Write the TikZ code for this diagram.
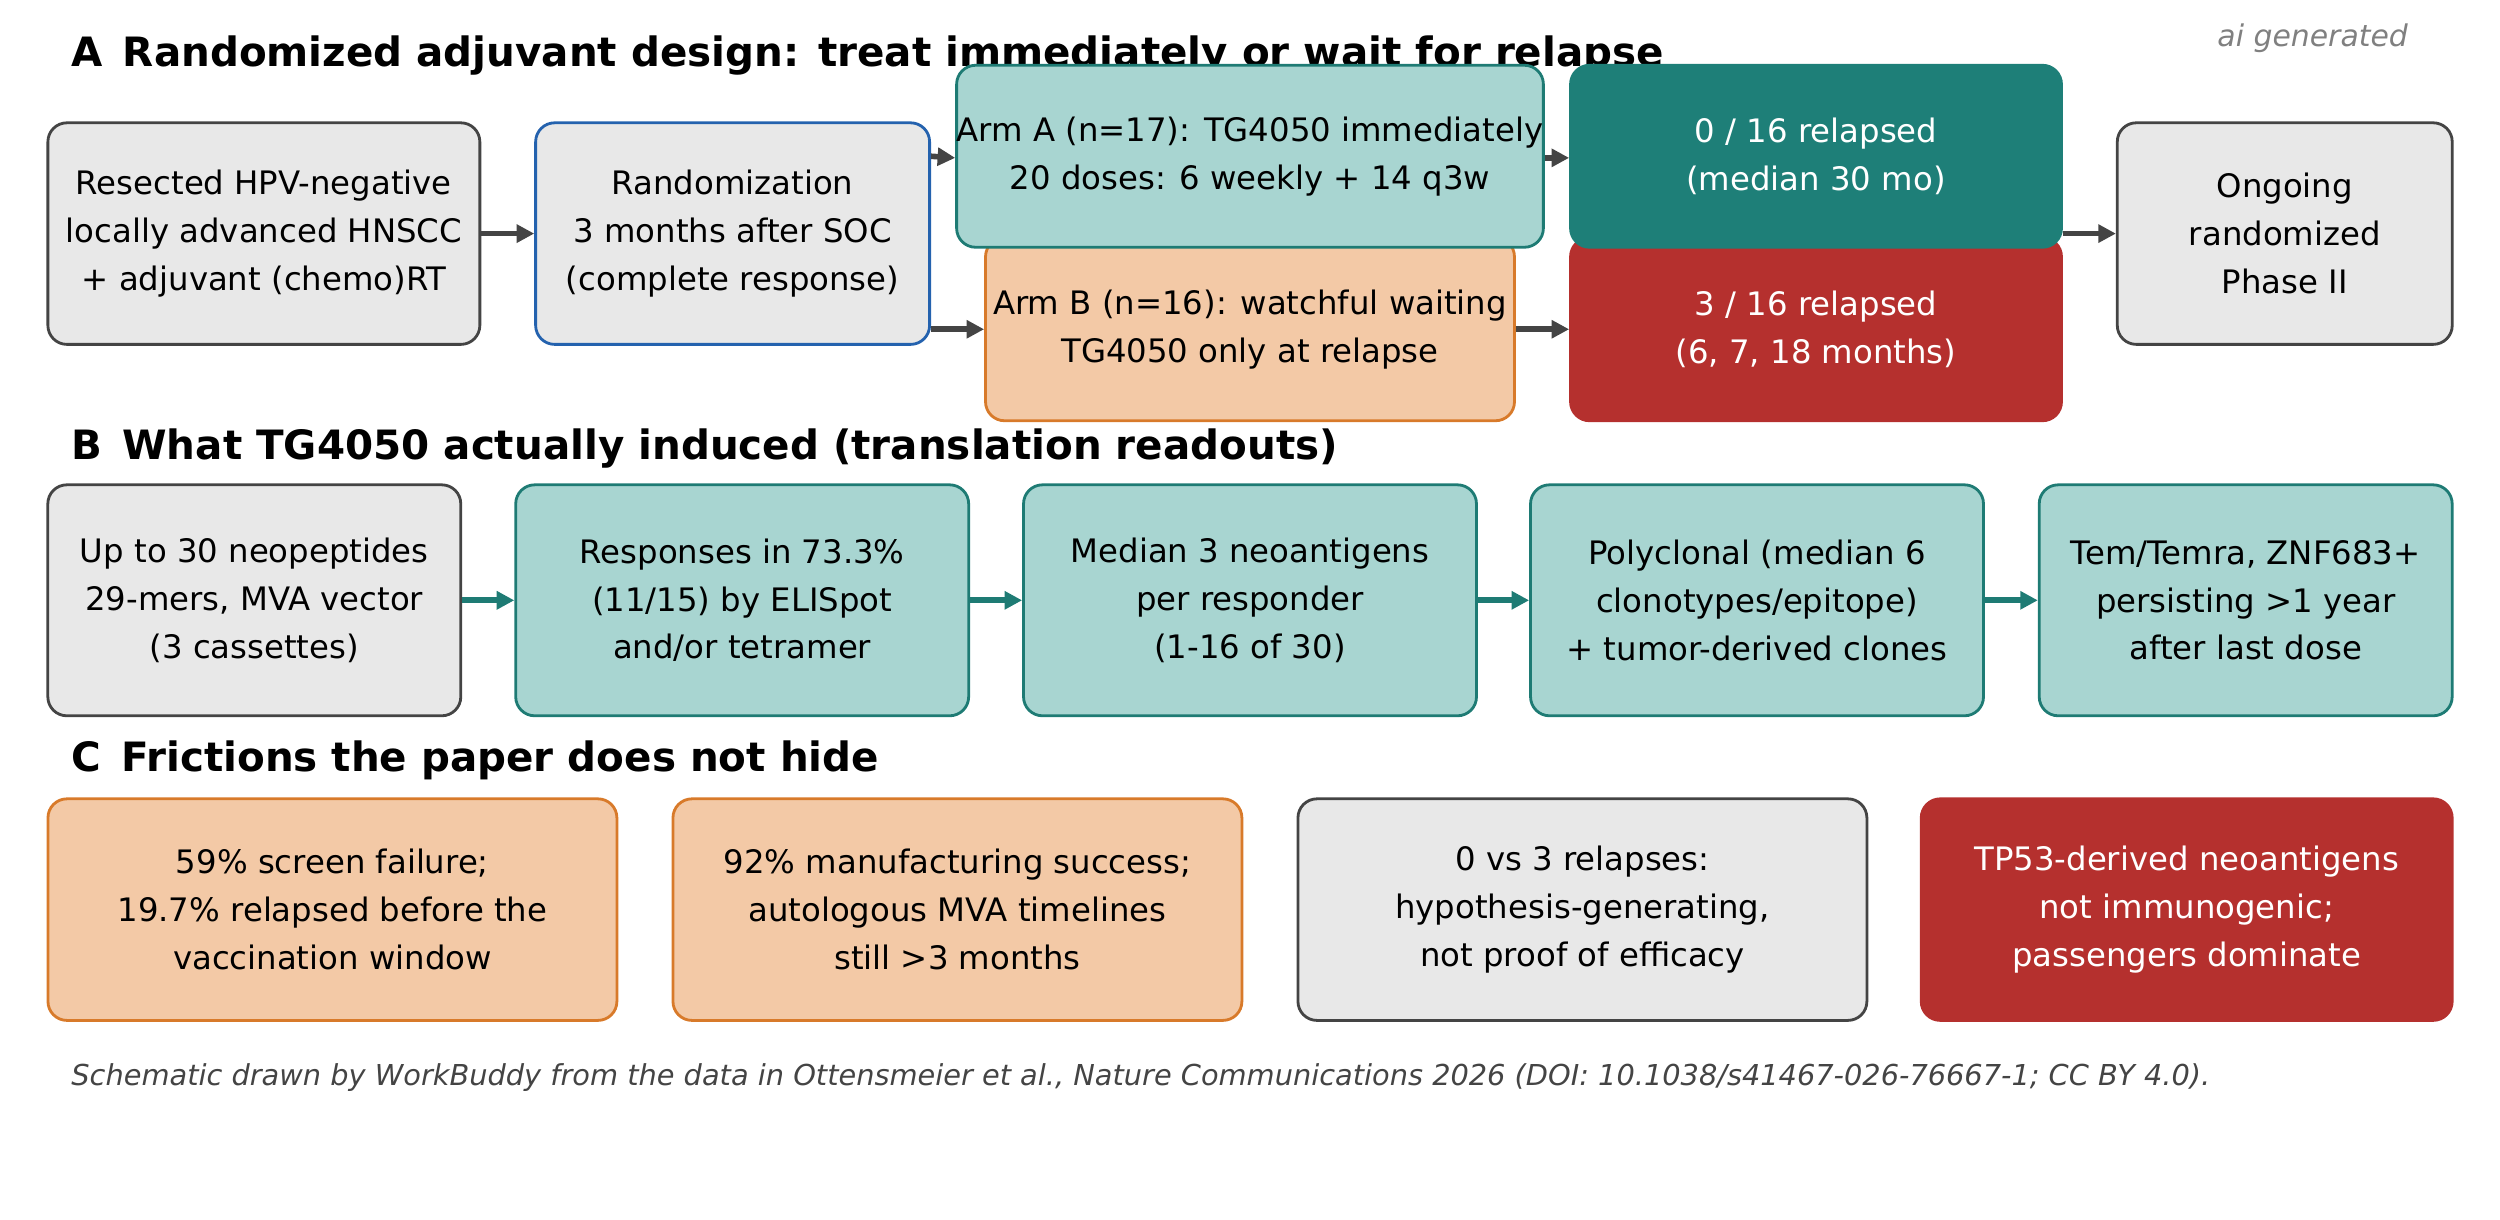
\documentclass[tikz,border=0pt]{standalone}
\usepackage{fontspec}
\setmainfont{DejaVu Sans}
\usetikzlibrary{arrows.meta,positioning}
\definecolor{gfill}{HTML}{E8E8E8}
\definecolor{gdraw}{HTML}{444444}
\definecolor{bdraw}{HTML}{2462AE}
\definecolor{tfill}{HTML}{A8D5D1}
\definecolor{tdraw}{HTML}{1E7B74}
\definecolor{tdark}{HTML}{1E7F78}
\definecolor{pfill}{HTML}{F3C9A6}
\definecolor{pdraw}{HTML}{D87A2A}
\definecolor{rdark}{HTML}{B5302E}

\begin{document}
\begin{tikzpicture}[x=0.01594cm,y=-0.01594cm,
		box/.style={rectangle,rounded corners=0.19cm,line width=0.8pt,align=center,font=\fontsize{9.2}{13.6}\selectfont,inner sep=0pt},
		grey/.style={box,fill=gfill,draw=gdraw},
		teal/.style={box,fill=tfill,draw=tdraw},
		peach/.style={box,fill=pfill,draw=pdraw},
		tdk/.style={box,fill=tdark,draw=tdark,text=white},
		rdk/.style={box,fill=rdark,draw=rdark,text=white},
		head/.style={anchor=west,font=\bfseries\fontsize{11.5}{14}\selectfont},
		arr/.style={-{Triangle[length=5pt,width=5pt]},line width=1.6pt,draw=gdraw},
		tarr/.style={arr,draw=tdraw}]
		\useasboundingbox (0,0) rectangle (1568,765);
		
		% part A
		\node[head] (ttlA) at (37,35) {A\enspace Randomized adjuvant design: treat immediately or wait for relapse};
		\node[anchor=east,text=gray,font=\itshape\fontsize{8.5}{10}\selectfont] (aigen) at (1518,24) {ai generated};
		\node[grey,minimum width=4.32cm,minimum height=2.216cm] (resect) at (165.5,146.5) {Resected HPV-negative\\locally advanced HNSCC\\+ adjuvant (chemo)RT};
		\node[grey,draw=bdraw,minimum width=3.94cm,minimum height=2.216cm] (rand) at (459.5,146.5) {Randomization\\3 months after SOC\\(complete response)};
		\node[peach,minimum width=5.29cm,minimum height=1.83cm] (armB) at (784,206.5) {Arm B (n=16): watchful waiting\\TG4050 only at relapse};
		\node[teal,minimum width=5.29cm,minimum height=1.82cm] (armA) at (784,98) {Arm A (n=17): TG4050 immediately\\20 doses: 6 weekly + 14 q3w};
		\node[rdk,minimum width=4.91cm,minimum height=1.83cm] (relB) at (1139,206.5) {3 / 16 relapsed\\(6, 7, 18 months)};
		\node[tdk,minimum width=4.91cm,minimum height=1.82cm] (relA) at (1139,98) {0 / 16 relapsed\\(median 30 mo)};
		\node[grey,minimum width=3.35cm,minimum height=2.216cm] (ongo) at (1433,146.5) {Ongoing\\randomized\\Phase II};
		\draw[arr] (resect) -- (rand);
		\draw[arr] (rand.east |- armA.center) -- (armA.west |- 0,99);
		\draw[arr] (rand.east |- armB.center) -- (armB.west);
		\draw[arr] (armA.east |- 0,99) -- (relA.west |- 0,99);
		\draw[arr] (armB) -- (relB);
		\draw[arr] (relA.east |- ongo.center) -- (ongo);
		
		% part B
		\node[head] (ttlB) at (37,281) {B\enspace What TG4050 actually induced (translation readouts)};
		\node[grey,minimum width=4.13cm,minimum height=2.31cm] (pep) at (159.5,376.5) {Up to 30 neopeptides\\29-mers, MVA vector\\(3 cassettes)};
		\node[teal,minimum width=4.53cm,minimum height=2.31cm] (resp) at (465.5,376.5) {Responses in 73.3\%\\(11/15) by ELISpot\\and/or tetramer};
		\node[teal,minimum width=4.53cm,minimum height=2.31cm] (neo) at (784,376.5) {Median 3 neoantigens\\per responder\\(1-16 of 30)};
		\node[teal,minimum width=4.53cm,minimum height=2.31cm] (poly) at (1102,376.5) {Polyclonal (median 6\\clonotypes/epitope)\\+ tumor-derived clones};
		\node[teal,minimum width=4.13cm,minimum height=2.31cm] (tem) at (1408.5,376.5) {Tem/Temra, ZNF683+\\persisting >1 year\\after last dose};
		\foreach \a/\b in {pep/resp,resp/neo,neo/poly,poly/tem}
		\draw[tarr] (\a) -- (\b);
		
		% part C
		\node[head] (ttlC) at (37,477) {C\enspace Frictions the paper does not hide};
		\node[peach,minimum width=5.69cm,minimum height=2.216cm] (scr) at (208.5,570.5) {59\% screen failure;\\19.7\% relapsed before the\\vaccination window};
		\node[peach,minimum width=5.69cm,minimum height=2.216cm] (manu) at (600.5,570.5) {92\% manufacturing success;\\autologous MVA timelines\\still >3 months};
		\node[grey,minimum width=5.69cm,minimum height=2.216cm] (hyp) at (992.5,570.5) {0 vs 3 relapses:\\hypothesis-generating,\\not proof of efficacy};
		\node[rdk,minimum width=5.31cm,minimum height=2.216cm] (tp53) at (1371.5,570.5) {TP53-derived neoantigens\\not immunogenic;\\passengers dominate};
		
		\node[anchor=west,text=gdraw,font=\itshape\fontsize{8.2}{10}\selectfont] (foot) at (37,676) {Schematic drawn by WorkBuddy from the data in Ottensmeier et al., Nature Communications 2026 (DOI: 10.1038/s41467-026-76667-1; CC BY 4.0).};
		\end{tikzpicture}
\end{document}
